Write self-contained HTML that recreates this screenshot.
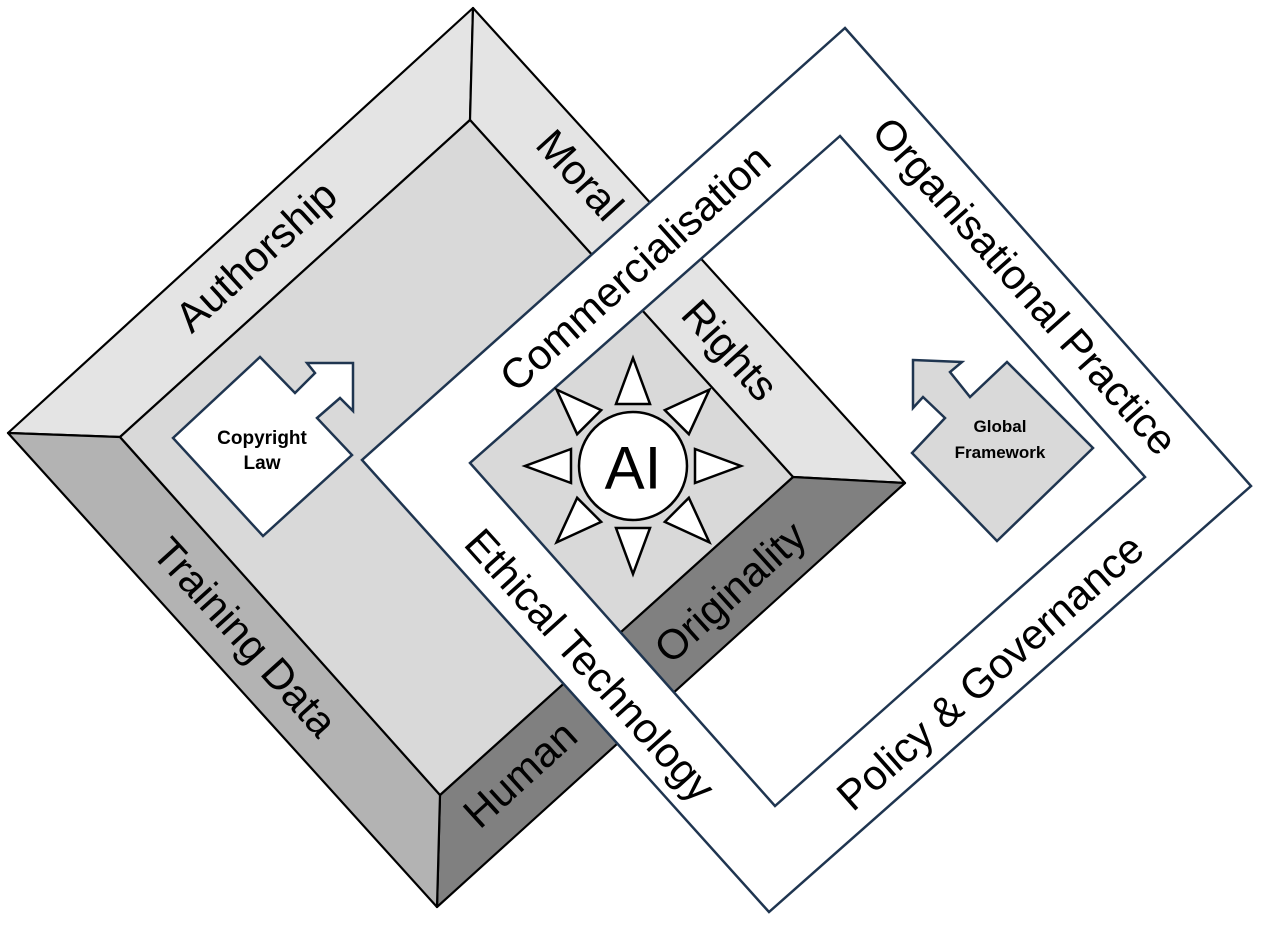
<!DOCTYPE html>
<html><head><meta charset="utf-8"><style>
html,body{margin:0;padding:0;background:#fff;}
svg{display:block;}
text{font-family:"Liberation Sans",Arial,sans-serif;fill:#000;}
</style></head><body>
<svg width="1263" height="927" viewBox="0 0 1263 927" xmlns="http://www.w3.org/2000/svg">
<g stroke="#000" stroke-width="2.2" stroke-linejoin="round">
<polygon points="473,8 470,120 120,437 8,433" fill="#e4e4e4"/>
<polygon points="473,8 905,483 793,477 470,120" fill="#e4e4e4"/>
<polygon points="905,483 437,907 440,795 793,477" fill="#808080"/>
<polygon points="437,907 8,433 120,437 440,795" fill="#b3b3b3"/>
<polygon points="470,120 793,477 440,795 120,437" fill="#d9d9d9"/>
</g>
<polygon points="173,438 260,357 295,393 315,373 307,363 353,363 353,411 340,398 317,418 352,455 263,536" fill="#fff" stroke="#1f3550" stroke-width="2.5" stroke-linejoin="miter"/>
<text x="262" y="444" font-size="19" font-weight="bold" text-anchor="middle">Copyright</text>
<text x="262" y="469" font-size="19" font-weight="bold" text-anchor="middle">Law</text>
<path d="M845,28 L1251,486 L769,912 L362,460 Z M840,136 L470,463 L775,806 L1145,477 Z" fill="#fff" fill-rule="evenodd" stroke="#1f3550" stroke-width="2.5" stroke-linejoin="miter"/>
<polygon points="913,360 962,362 950,372 970,397 1007,362 1093,448 997,541 912,453 945,418 923,397 913,408" fill="#d9d9d9" stroke="#1f3550" stroke-width="2.5" stroke-linejoin="miter"/>
<text x="1000" y="432" font-size="17" font-weight="bold" text-anchor="middle">Global</text>
<text x="1000" y="458" font-size="17" font-weight="bold" text-anchor="middle">Framework</text>
<g fill="#fff" stroke="#000" stroke-width="2.5" stroke-linejoin="miter">
<circle cx="633" cy="466" r="54"/>
<g transform="translate(633,466)">
<polygon points="-17,-62 17,-62 0,-108"/>
<polygon points="-17,-62 17,-62 0,-108" transform="rotate(45)"/>
<polygon points="-17,-62 17,-62 0,-108" transform="rotate(90)"/>
<polygon points="-17,-62 17,-62 0,-108" transform="rotate(135)"/>
<polygon points="-17,-62 17,-62 0,-108" transform="rotate(180)"/>
<polygon points="-17,-62 17,-62 0,-108" transform="rotate(225)"/>
<polygon points="-17,-62 17,-62 0,-108" transform="rotate(270)"/>
<polygon points="-17,-62 17,-62 0,-108" transform="rotate(315)"/>
</g>
</g>
<text x="633" y="468" font-size="60" text-anchor="middle" dominant-baseline="central">AI</text>
<g font-size="42" text-anchor="middle" dominant-baseline="central">
<text transform="translate(256,256) rotate(-42.4)">Authorship</text>
<text transform="translate(580,175) rotate(47.7)">Moral</text>
<text transform="translate(730,350) rotate(47.7)">Rights</text>
<text transform="translate(245,637) rotate(47.9)">Training Data</text>
<text transform="translate(520,774) rotate(-42.2)">Human</text>
<text transform="translate(730,592) rotate(-42.2)">Originality</text>
<text transform="translate(635,268) rotate(-41.8)">Commercialisation</text>
<text transform="translate(1025,286) rotate(48.4)">Organisational Practice</text>
<text transform="translate(990,672) rotate(-41.5)">Policy &amp; Governance</text>
<text transform="translate(590,665) rotate(48)">Ethical Technology</text>
</g>
</svg>
</body></html>
